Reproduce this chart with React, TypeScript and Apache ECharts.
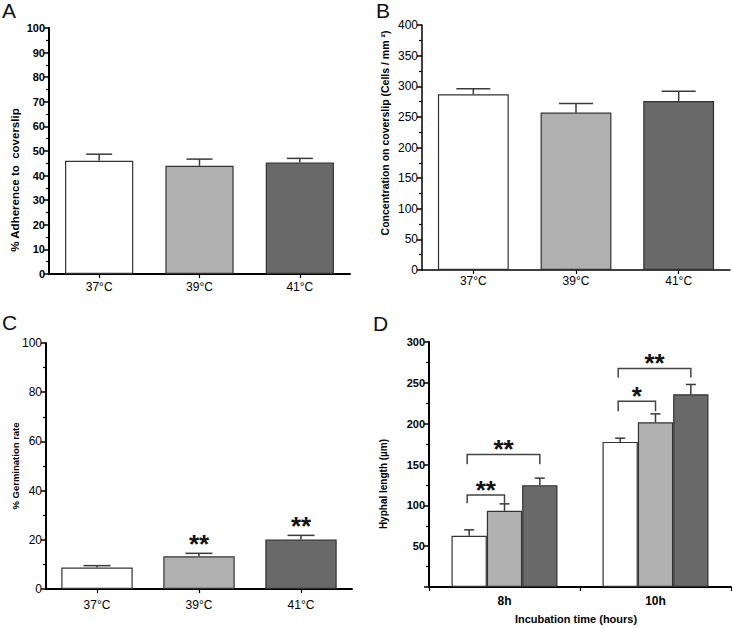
import React, { useEffect, useRef } from 'react';
import * as echarts from 'echarts';

const temperatures = ['37°C', '39°C', '41°C'];
const adherenceMean = [46.0, 44.0, 45.3];
const adherenceErr = [2.7, 2.7, 1.7];
const concentrationMean = [287, 257, 276];
const concentrationErr = [9, 15, 16];
const germinationMean = [8.7, 13.3, 20.1];
const germinationErr = [0.8, 1.2, 1.7];
const germinationSig = ['', '**', '**'];

const incubationTimes = ['8h', '10h'];
const hyphal37Mean = [62.7, 177.7];
const hyphal37Err = [7.3, 4.5];
const hyphal39Mean = [93.3, 201.8];
const hyphal39Err = [8.5, 10.2];
const hyphal41Mean = [124.7, 236.0];
const hyphal41Err = [8.6, 12.0];

// significance brackets in panel D
const bracketTime = [0, 0, 1, 1];
const bracketFrom = [0, 0, 0, 0];
const bracketTo = [1, 2, 1, 2];
const bracketLevel = [112.8, 162.3, 227.5, 267.6];
const bracketLegEnd = [102.7, 150.4, 215.3, 256.5];
const bracketLabel = ['**', '**', '*', '**'];

const barColors = ['#ffffff', '#b0b0b0', '#696969'];
const FONT = 'Liberation Sans, Arial, sans-serif';
const D_BAR_FRAC = 0.234;
const STAR_SIZE = 26;

function starText(text: string, x: number, y: number) {
  return {
    type: 'text',
    x,
    y,
    style: { text, fontSize: STAR_SIZE, fontWeight: 'bold', fontFamily: FONT, fill: '#111', align: 'center', verticalAlign: 'bottom', textAlign: 'center', textVerticalAlign: 'bottom' },
  };
}

function simpleErrRender(cap: number, sig?: string[]) {
  return (params: any, api: any) => {
    const x = api.value(0);
    const m = api.value(1);
    const e = api.value(2);
    const p0 = api.coord([x, m]);
    const p1 = api.coord([x, m + e]);
    const children: any[] = [
      { type: 'line', shape: { x1: p0[0], y1: p0[1], x2: p1[0], y2: p1[1] }, style: { stroke: '#3a3a3a', lineWidth: 1.5 } },
      { type: 'line', shape: { x1: p1[0] - cap / 2, y1: p1[1], x2: p1[0] + cap / 2, y2: p1[1] }, style: { stroke: '#3a3a3a', lineWidth: 1.5 } },
    ];
    if (sig && sig[params.dataIndex]) {
      children.push(starText(sig[params.dataIndex], p1[0], p1[1] + 4));
    }
    return { type: 'group', children };
  };
}

function groupedErrRender(params: any, api: any) {
  const t = api.value(0);
  const k = api.value(1);
  const m = api.value(2);
  const e = api.value(3);
  const bw = api.size([1, 0])[0] * D_BAR_FRAC;
  const p0 = api.coord([t, m]);
  const p1 = api.coord([t, m + e]);
  const x = p0[0] + (k - 1) * bw;
  const cap = 10;
  return {
    type: 'group',
    children: [
      { type: 'line', shape: { x1: x, y1: p0[1], x2: x, y2: p1[1] }, style: { stroke: '#3a3a3a', lineWidth: 1.5 } },
      { type: 'line', shape: { x1: x - cap / 2, y1: p1[1], x2: x + cap / 2, y2: p1[1] }, style: { stroke: '#3a3a3a', lineWidth: 1.5 } },
    ],
  };
}

function bracketRender(params: any, api: any) {
  const t = api.value(0);
  const a = api.value(1);
  const b = api.value(2);
  const lvl = api.value(3);
  const leg = api.value(4);
  const bw = api.size([1, 0])[0] * D_BAR_FRAC;
  const c = api.coord([t, lvl]);
  const cl = api.coord([t, leg]);
  const xa = c[0] + (a - 1) * bw - 2;
  const xb = c[0] + (b - 1) * bw;
  const stroke = { stroke: '#444', lineWidth: 1.5 };
  return {
    type: 'group',
    children: [
      { type: 'polyline', shape: { points: [[xa, cl[1]], [xa, c[1]], [xb, c[1]], [xb, cl[1]]] }, style: { ...stroke, fill: null } },
      starText(bracketLabel[params.dataIndex], (xa + xb) / 2, c[1] + 8),
    ],
  };
}

function yAxisBase(gridIndex: number, max: number, interval: number, bold: boolean, lw: number, size: number, hideZero = false) {
  return {
    type: 'value',
    gridIndex,
    min: 0,
    max,
    interval,
    axisLine: { show: true, lineStyle: { color: '#000', width: lw } },
    axisTick: { show: true, length: 5, lineStyle: { color: '#000', width: 1.5 } },
    minorTick: { show: true, splitNumber: 2, length: 3, lineStyle: { color: '#000', width: 1.2 } },
    splitLine: { show: false },
    axisLabel: {
      color: '#000',
      fontSize: size,
      fontWeight: bold ? 'bold' : 'normal',
      fontFamily: FONT,
      margin: 4,
      formatter: (v: number) => (hideZero && v === 0 ? '' : String(v)),
    },
  };
}

function xAxisBase(gridIndex: number, data: string[], bold: boolean, lw: number, margin: number, align = true) {
  return {
    type: 'category',
    gridIndex,
    data,
    axisLine: { show: true, lineStyle: { color: '#000', width: lw } },
    axisTick: { show: true, alignWithLabel: align, length: 4, lineStyle: { color: '#000', width: 1.2 } },
    axisLabel: { color: '#000', fontSize: 12, fontWeight: bold ? 'bold' : 'normal', fontFamily: FONT, margin },
  };
}

function vText(x: number, y: number, text: string, size: number) {
  return {
    type: 'text',
    x,
    y,
    rotation: Math.PI / 2,
    style: { text, fontSize: size, fontWeight: 'bold', fontFamily: FONT, fill: '#000', align: 'center', verticalAlign: 'middle', textAlign: 'center', textVerticalAlign: 'middle' },
  };
}

function hText(x: number, y: number, text: string, size: number) {
  return {
    type: 'text',
    x,
    y,
    style: { text, fontSize: size, fontWeight: 'bold', fontFamily: FONT, fill: '#000', align: 'center', verticalAlign: 'middle', textAlign: 'center', textVerticalAlign: 'middle' },
  };
}

function letter(x: number, y: number, text: string) {
  return {
    type: 'text',
    x,
    y,
    style: { text, fontSize: 21, fontFamily: FONT, fill: '#111', align: 'left', verticalAlign: 'top', textAlign: 'left', textVerticalAlign: 'top' },
  };
}

const barBorder = { borderColor: '#333', borderWidth: 1.2 };

export default function App() {
  const ref = useRef<HTMLDivElement>(null);
  useEffect(() => {
    if (!ref.current) return;
    document.body.style.margin = '0';
    const chart = echarts.init(ref.current, undefined, { renderer: 'svg' });
    const tempItems = (vals: number[]) => vals.map((v, i) => ({ value: v, itemStyle: { color: barColors[i], ...barBorder } }));
    const option: any = {
      animation: false,
      backgroundColor: '#fff',
      textStyle: { fontFamily: FONT },
      grid: [
        { left: 49, top: 28, width: 301, height: 246 },
        { left: 422, top: 25, width: 308, height: 245 },
        { left: 46, top: 343, width: 306, height: 246 },
        { left: 429, top: 342, width: 302, height: 245 },
      ],
      xAxis: [
        xAxisBase(0, temperatures, false, 2, 7),
        xAxisBase(1, temperatures, false, 1.5, 5),
        xAxisBase(2, temperatures, false, 2, 10),
        xAxisBase(3, incubationTimes, true, 2, 8, false),
      ],
      yAxis: [
        yAxisBase(0, 100, 10, true, 2, 11),
        yAxisBase(1, 400, 50, false, 1.5, 12),
        yAxisBase(2, 100, 20, false, 2, 12),
        yAxisBase(3, 300, 50, true, 2, 11, true),
      ],
      series: [
        { type: 'bar', xAxisIndex: 0, yAxisIndex: 0, barWidth: '68%', data: tempItems(adherenceMean), z: 2 },
        { type: 'custom', xAxisIndex: 0, yAxisIndex: 0, renderItem: simpleErrRender(26), encode: { x: 0, y: 1 }, data: adherenceMean.map((m, i) => [i, m, adherenceErr[i]]), z: 3 },
        { type: 'bar', xAxisIndex: 1, yAxisIndex: 1, barWidth: '69%', data: tempItems(concentrationMean), z: 2 },
        { type: 'custom', xAxisIndex: 1, yAxisIndex: 1, renderItem: simpleErrRender(34), encode: { x: 0, y: 1 }, data: concentrationMean.map((m, i) => [i, m, concentrationErr[i]]), z: 3 },
        { type: 'bar', xAxisIndex: 2, yAxisIndex: 2, barWidth: '70%', data: tempItems(germinationMean), z: 2 },
        { type: 'custom', xAxisIndex: 2, yAxisIndex: 2, renderItem: simpleErrRender(27, germinationSig), encode: { x: 0, y: 1 }, data: germinationMean.map((m, i) => [i, m, germinationErr[i]]), z: 3 },
        { type: 'bar', xAxisIndex: 3, yAxisIndex: 3, barWidth: '23.4%', barGap: '0%', data: hyphal37Mean, itemStyle: { color: barColors[0], ...barBorder }, z: 2 },
        { type: 'bar', xAxisIndex: 3, yAxisIndex: 3, barWidth: '23.4%', barGap: '0%', data: hyphal39Mean, itemStyle: { color: barColors[1], ...barBorder }, z: 2 },
        { type: 'bar', xAxisIndex: 3, yAxisIndex: 3, barWidth: '23.4%', barGap: '0%', data: hyphal41Mean, itemStyle: { color: barColors[2], ...barBorder }, z: 2 },
        {
          type: 'custom', xAxisIndex: 3, yAxisIndex: 3, renderItem: groupedErrRender, encode: { x: 0, y: 2 }, z: 3,
          data: [
            ...hyphal37Mean.map((m, t) => [t, 0, m, hyphal37Err[t]]),
            ...hyphal39Mean.map((m, t) => [t, 1, m, hyphal39Err[t]]),
            ...hyphal41Mean.map((m, t) => [t, 2, m, hyphal41Err[t]]),
          ],
        },
        {
          type: 'custom', xAxisIndex: 3, yAxisIndex: 3, renderItem: bracketRender, encode: { x: 0, y: 3 }, z: 3,
          data: bracketTime.map((t, i) => [t, bracketFrom[i], bracketTo[i], bracketLevel[i], bracketLegEnd[i]]),
        },
      ],
      graphic: [
        letter(2, 0, 'A'),
        letter(376, 0, 'B'),
        letter(2, 312, 'C'),
        letter(373, 313, 'D'),
        vText(15, 180, '% Adherence to  coverslip', 11.5),
        vText(385, 133, 'Concentration on coverslip (Cells / mm ²)', 10.5),
        vText(15, 466, '% Germination rate', 9.5),
        vText(383, 484, 'Hyphal length (µm)', 10),
        hText(576, 619, 'Incubation time (hours)', 11),
      ],
    };
    chart.setOption(option);
    return () => chart.dispose();
  }, []);
  return <div ref={ref} style={{ width: 733, height: 628 }} />;
}
